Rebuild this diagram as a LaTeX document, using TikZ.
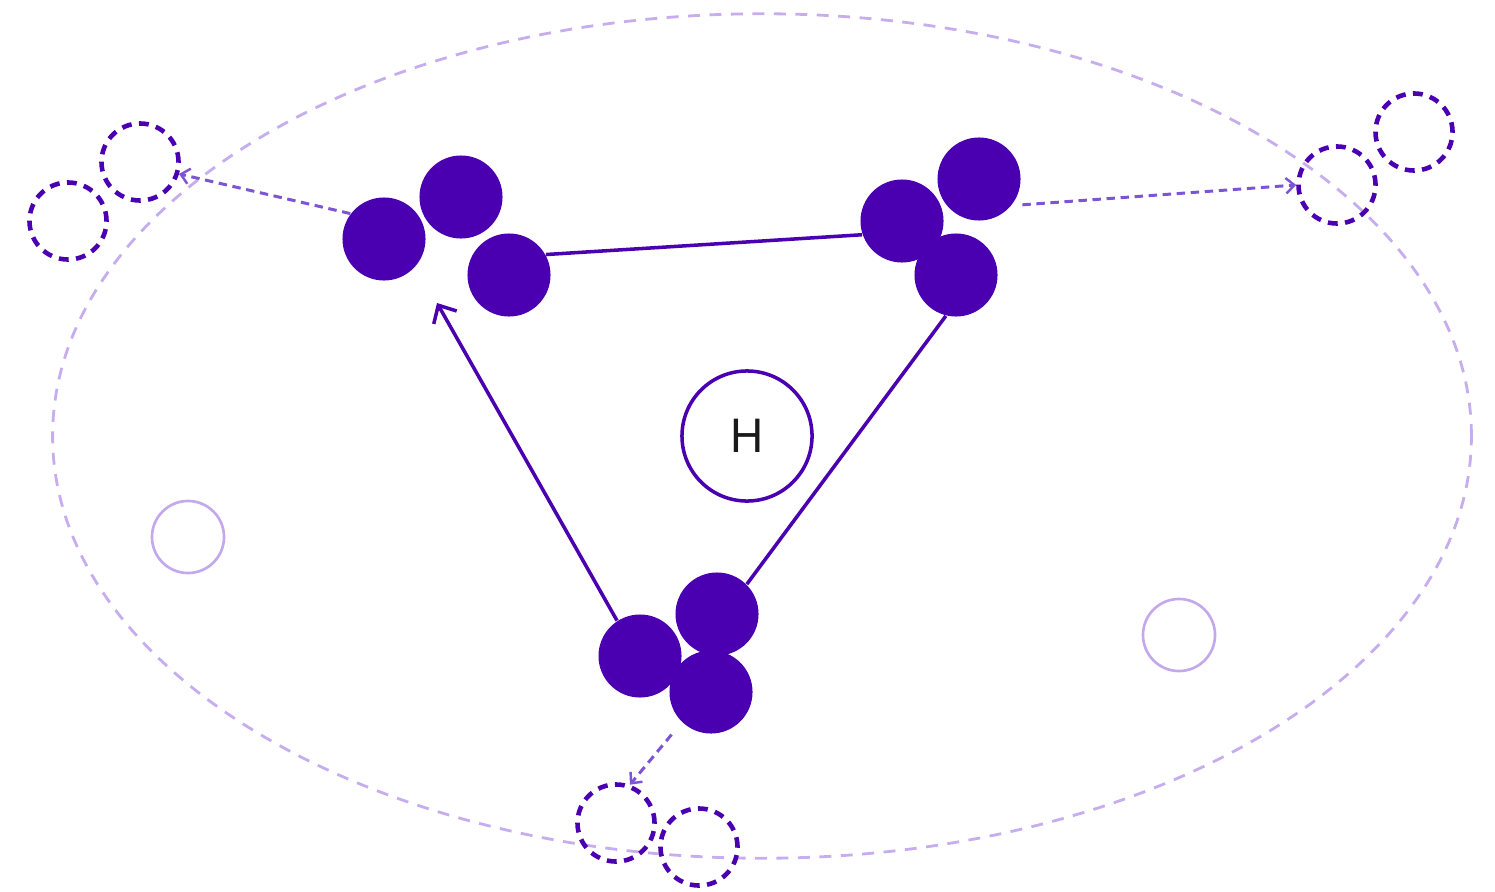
\documentclass[tikz,border=0pt]{standalone}
\usepackage{fontspec}
\setsansfont{TeX Gyre Heros}
\usetikzlibrary{arrows.meta}
\definecolor{deep}{HTML}{4A00B0}
\definecolor{mid}{HTML}{7C55D4}
\definecolor{pale}{HTML}{C6AEEE}
\definecolor{paleb}{HTML}{C3A8EC}
\definecolor{ink}{HTML}{1A1A1A}
\tikzset{
  atom/.style={circle, fill=deep, minimum size=0.83cm, inner sep=0pt},
  ghost/.style={circle, draw=deep, line width=1.3pt, dash pattern=on 2.8pt off 2.1pt, minimum size=0.77cm, inner sep=0pt},
  faint/.style={circle, draw=paleb, line width=0.75pt, minimum size=0.72cm, inner sep=0pt},
  hub/.style={circle, draw=deep, line width=1pt, minimum size=1.3cm, inner sep=0pt, font=\sffamily\fontsize{13}{15}\selectfont, text=ink},
  bond/.style={draw=deep, line width=1pt},
  bondarrow/.style={bond, -{Straight Barb[length=4pt, width=7.5pt, line width=1pt]}},
  hop/.style={draw=mid, line width=0.85pt, dash pattern=on 2.4pt off 1.6pt, -{Straight Barb[length=2.4pt, width=4.4pt, line width=0.7pt]}},
  orbit/.style={draw=pale, line width=0.8pt, dash pattern=on 3.4pt off 2.7pt}
}
\begin{document}
\begin{tikzpicture}[x=0.01cm, y=-0.01cm]
\useasboundingbox (0,0) rectangle (1495,891);
\draw[orbit] (762,436) ellipse [x radius=7.09cm, y radius=4.22cm];
% faint circles
\node[faint] (F1) at (188,537) {};
\node[faint] (F2) at (1179,635) {};
% ghost circles
\node[ghost] (L1) at (68,221) {};
\node[ghost] (L2) at (140,162) {};
\node[ghost] (R1) at (1337,185) {};
\node[ghost] (R2) at (1414,132) {};
\node[ghost] (D1) at (616,823) {};
\node[ghost] (D2) at (699,847) {};
% clusters
\node[atom] (A1) at (384,239) {};
\node[atom] (A2) at (461,197) {};
\node[atom] (A3) at (509,275) {};
\node[atom] (B1) at (902,221) {};
\node[atom] (B2) at (979,179) {};
\node[atom] (B3) at (956,275) {};
\node[atom] (C1) at (640,656) {};
\node[atom] (C2) at (717,614) {};
\node[atom] (C3) at (711,692) {};
% hub
\node[hub] (H) at (747,436) {H};
% bonds
\coordinate (tipA) at (437,303);
\draw[bond] (A3.29) -- (B1.199);
\draw[bond] (B3.256) -- (C2.45);
\draw[bondarrow] (C1.123) -- (tipA);
% hops
\draw[hop] (A1.143) -- (L2.-17);
\draw[hop, shorten <=3pt] (B2.-39) -- (R1.180);
\draw[hop, shorten <=4.5pt] (C3.226) -- (D1.70);
\end{tikzpicture}
\end{document}
